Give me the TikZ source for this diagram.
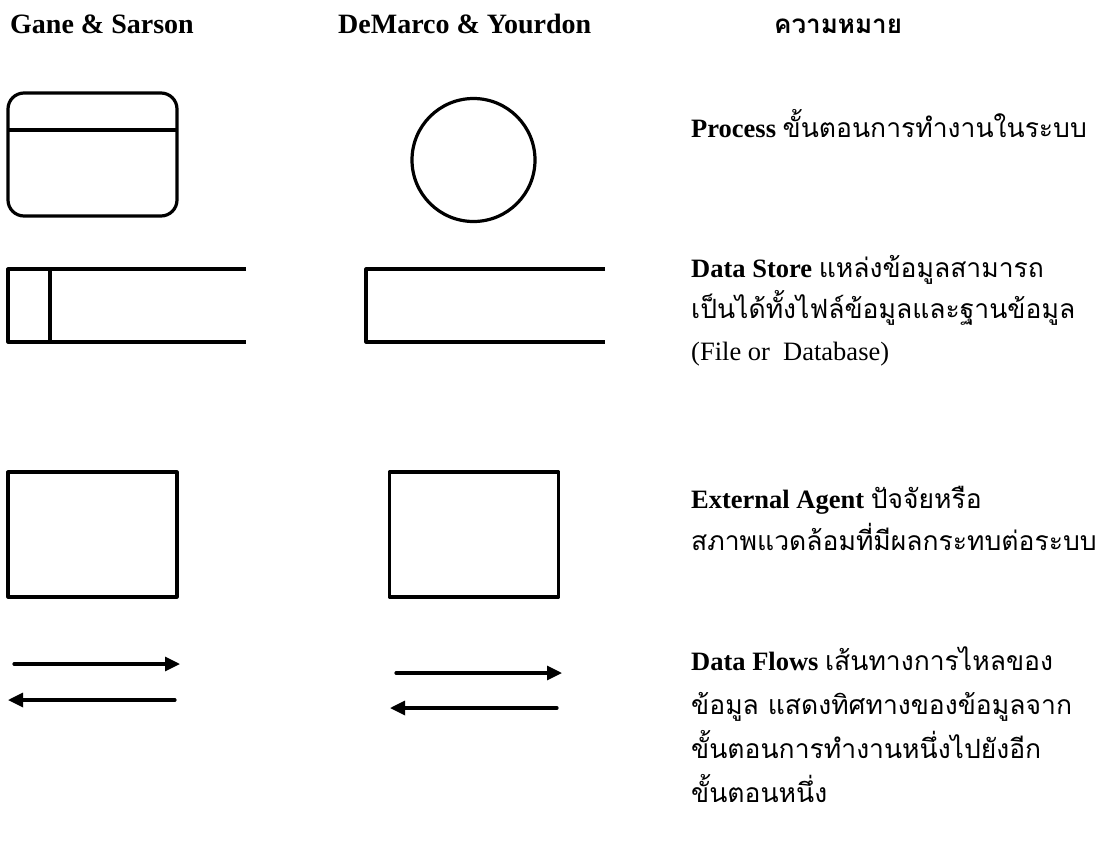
\documentclass[tikz,border=0pt]{standalone}
\usepackage{fontspec}
\setmainfont{Liberation Serif}
\newfontfamily\thai[Script=Thai]{Loma}
\usetikzlibrary{arrows.meta,shapes.geometric}
\begin{document}
\begin{tikzpicture}[x=1pt,y=-1pt,
  sym/.style={line width=3.2pt, line join=round},
  boxn/.style={draw, sym, inner sep=0pt},
  hdr/.style={anchor=base west, inner sep=0pt, font=\fontsize{28}{28}\selectfont\bfseries},
  txt/.style={anchor=base west, inner sep=0pt, font=\fontsize{26.5}{26.5}\selectfont},
  flow/.style={line width=3.2pt, -{Triangle[length=15pt,width=14pt]}, line cap=round}]
\useasboundingbox (0,0) rectangle (1103,847);
% headers
\node[hdr] (h1) at (10,33) {Gane \& Sarson};
\node[hdr] (h2) at (338,33) {DeMarco \& Yourdon};
\node[hdr] (h3) at (774,33) {\thai\fontsize{26}{26}\selectfont\bfseries ความหมาย};
% process
\node[boxn, rounded corners=16pt, minimum width=169pt, minimum height=123pt] (gproc) at (92.5,154.5) {};
\coordinate (gpl) at (8,130);
\coordinate (gpr) at (177,130);
\draw[sym] (gpl) -- (gpr);
\node[boxn, circle, minimum size=123pt] (dproc) at (473.5,160) {};
% data stores
\coordinate (gs1) at (246,269);
\coordinate (gs2) at (8,269);
\coordinate (gs3) at (8,342);
\coordinate (gs4) at (246,342);
\coordinate (gd1) at (50,269);
\coordinate (gd2) at (50,342);
\draw[sym] (gs1) -- (gs2) -- (gs3) -- (gs4);
\draw[sym] (gd1) -- (gd2);
\coordinate (ds1) at (605,269);
\coordinate (ds2) at (366,269);
\coordinate (ds3) at (366,342);
\coordinate (ds4) at (605,342);
\draw[sym] (ds1) -- (ds2) -- (ds3) -- (ds4);
% external agents
\node[boxn, minimum width=169pt, minimum height=125pt] (gext) at (92.5,534.5) {};
\node[boxn, minimum width=169pt, minimum height=125pt] (dext) at (474,534.5) {};
% data flows
\coordinate (ga1) at (14,664); \coordinate (ga2) at (180,664);
\coordinate (gb1) at (175,700); \coordinate (gb2) at (8,700);
\coordinate (da1) at (396,673); \coordinate (da2) at (562,673);
\coordinate (db1) at (557,708); \coordinate (db2) at (390,708);
\draw[flow] (ga1) -- (ga2);
\draw[flow] (gb1) -- (gb2);
\draw[flow] (da1) -- (da2);
\draw[flow] (db1) -- (db2);
% meanings
\node[txt] (t1) at (691,137) {\textbf{Process} \thai ขั้นตอนการทำงานในระบบ};
\node[txt] (t2) at (691,277) {\textbf{Data Store} \thai แหล่งข้อมูลสามารถ};
\node[txt] (t3) at (691,318) {\thai เป็นได้ทั้งไฟล์ข้อมูลและฐานข้อมูล};
\node[txt] (t4) at (691,360) {(File or\ \ Database)};
\node[txt] (t5) at (691,508) {\textbf{External Agent} \thai ปัจจัยหรือ};
\node[txt] (t6) at (691,550) {\thai สภาพแวดล้อมที่มีผลกระทบต่อระบบ};
\node[txt] (t7) at (691,670) {\textbf{Data Flows} \thai เส้นทางการไหลของ};
\node[txt] (t8) at (691,714) {\thai ข้อมูล แสดงทิศทางของข้อมูลจาก};
\node[txt] (t9) at (691,758) {\thai ขั้นตอนการทำงานหนึ่งไปยังอีก};
\node[txt] (t10) at (691,802) {\thai ขั้นตอนหนึ่ง};
\end{tikzpicture}
\end{document}
